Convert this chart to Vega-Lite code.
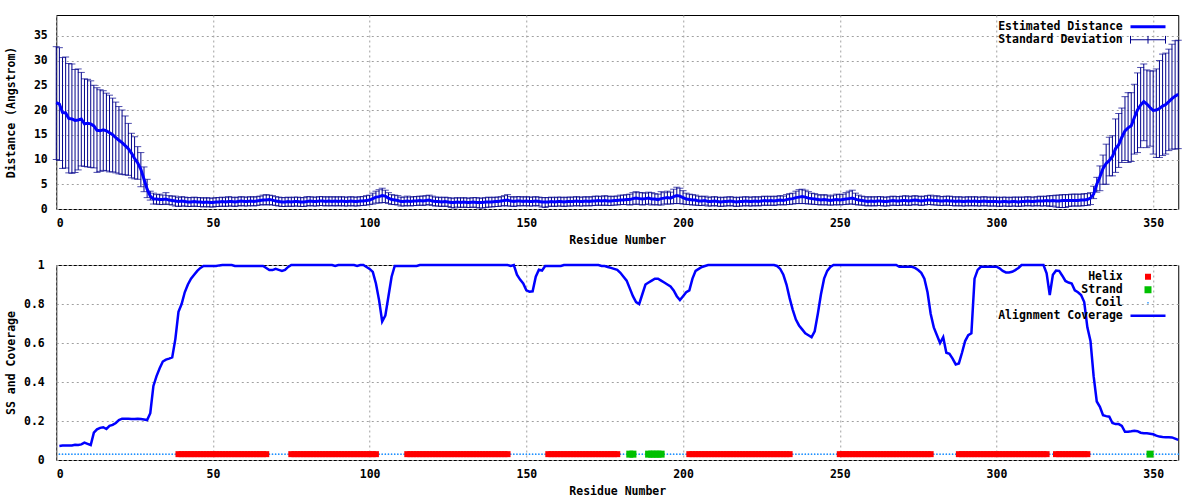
{
"$schema": "https://vega.github.io/schema/vega-lite/v6.json",
"padding": {"left": 4.25, "top": 14, "right": 22.5, "bottom": 0},
"background": "#ffffff",
"columns": 1,
"spacing": 11,
"resolve": {"scale": {"color": "independent"}, "legend": {"color": "independent"}},
"datasets": {
"dist": [
{"r":0,"d":21.5,"lo":10.0,"hi":32.8},{"r":1,"d":21.2,"lo":9.8,"hi":32.6},{"r":2,"d":19.5,"lo":8.2,"hi":30.6},{"r":3,"d":19.4,"lo":8.3,"hi":30.7},{"r":4,"d":18.3,"lo":7.3,"hi":29.4},{"r":5,"d":18.2,"lo":7.2,"hi":29.3},{"r":6,"d":17.9,"lo":7.4,"hi":28.2},{"r":7,"d":18.0,"lo":7.9,"hi":28.3},{"r":8,"d":18.2,"lo":8.7,"hi":27.6},{"r":9,"d":17.2,"lo":8.6,"hi":26.3},
{"r":10,"d":17.3,"lo":8.5,"hi":26.2},{"r":11,"d":17.2,"lo":8.4,"hi":25.9},{"r":12,"d":16.8,"lo":8.3,"hi":25.0},{"r":13,"d":15.9,"lo":7.4,"hi":24.5},{"r":14,"d":15.8,"lo":7.6,"hi":24.1},{"r":15,"d":16.0,"lo":7.8,"hi":23.9},{"r":16,"d":15.8,"lo":7.7,"hi":23.4},{"r":17,"d":15.4,"lo":7.5,"hi":23.0},{"r":18,"d":15.0,"lo":7.5,"hi":22.4},{"r":19,"d":14.4,"lo":7.3,"hi":21.6},
{"r":20,"d":13.9,"lo":7.1,"hi":20.7},{"r":21,"d":13.4,"lo":7.0,"hi":20.0},{"r":22,"d":12.8,"lo":6.9,"hi":18.8},{"r":23,"d":12.2,"lo":6.8,"hi":17.3},{"r":24,"d":11.3,"lo":6.3,"hi":15.3},{"r":25,"d":10.2,"lo":6.1,"hi":14.6},{"r":26,"d":9.3,"lo":6.0,"hi":12.6},{"r":27,"d":8.0,"lo":4.5,"hi":11.4},{"r":28,"d":6.0,"lo":3.5,"hi":8.5},{"r":29,"d":4.0,"lo":2.3,"hi":6.0},
{"r":30,"d":2.6,"lo":1.8,"hi":3.6},{"r":31,"d":2.0,"lo":1.0,"hi":3.2},{"r":32,"d":2.0,"lo":1.0,"hi":2.9},{"r":33,"d":1.9,"lo":0.9,"hi":3.0},{"r":34,"d":1.9,"lo":0.9,"hi":2.8},{"r":35,"d":2.0,"lo":1.0,"hi":3.3},{"r":36,"d":1.8,"lo":0.9,"hi":2.7},{"r":37,"d":1.7,"lo":0.8,"hi":2.6},{"r":38,"d":1.6,"lo":0.6,"hi":2.6},{"r":39,"d":1.5,"lo":0.5,"hi":2.3},
{"r":40,"d":1.6,"lo":0.6,"hi":2.5},{"r":41,"d":1.5,"lo":0.6,"hi":2.4},{"r":42,"d":1.4,"lo":0.5,"hi":2.3},{"r":43,"d":1.4,"lo":0.5,"hi":2.3},{"r":44,"d":1.5,"lo":0.6,"hi":2.4},{"r":45,"d":1.4,"lo":0.5,"hi":2.3},{"r":46,"d":1.4,"lo":0.5,"hi":2.3},{"r":47,"d":1.3,"lo":0.4,"hi":2.2},{"r":48,"d":1.4,"lo":0.5,"hi":2.3},{"r":49,"d":1.3,"lo":0.4,"hi":2.2},
{"r":50,"d":1.3,"lo":0.4,"hi":2.2},{"r":51,"d":1.4,"lo":0.5,"hi":2.3},{"r":52,"d":1.4,"lo":0.5,"hi":2.3},{"r":53,"d":1.5,"lo":0.6,"hi":2.4},{"r":54,"d":1.4,"lo":0.5,"hi":2.3},{"r":55,"d":1.5,"lo":0.6,"hi":2.5},{"r":56,"d":1.5,"lo":0.6,"hi":2.4},{"r":57,"d":1.4,"lo":0.5,"hi":2.3},{"r":58,"d":1.5,"lo":0.6,"hi":2.4},{"r":59,"d":1.6,"lo":0.7,"hi":2.5},
{"r":60,"d":1.5,"lo":0.6,"hi":2.4},{"r":61,"d":1.5,"lo":0.6,"hi":2.4},{"r":62,"d":1.6,"lo":0.7,"hi":2.5},{"r":63,"d":1.5,"lo":0.6,"hi":2.4},{"r":64,"d":1.6,"lo":0.7,"hi":2.5},{"r":65,"d":1.7,"lo":0.8,"hi":2.6},{"r":66,"d":1.8,"lo":0.9,"hi":2.8},{"r":67,"d":1.8,"lo":0.8,"hi":2.9},{"r":68,"d":1.9,"lo":0.9,"hi":2.8},{"r":69,"d":1.8,"lo":0.8,"hi":2.7},
{"r":70,"d":1.6,"lo":0.7,"hi":2.5},{"r":71,"d":1.5,"lo":0.6,"hi":2.4},{"r":72,"d":1.4,"lo":0.5,"hi":2.3},{"r":73,"d":1.4,"lo":0.5,"hi":2.3},{"r":74,"d":1.5,"lo":0.6,"hi":2.4},{"r":75,"d":1.4,"lo":0.5,"hi":2.3},{"r":76,"d":1.5,"lo":0.6,"hi":2.4},{"r":77,"d":1.5,"lo":0.6,"hi":2.4},{"r":78,"d":1.4,"lo":0.5,"hi":2.3},{"r":79,"d":1.4,"lo":0.5,"hi":2.3},
{"r":80,"d":1.5,"lo":0.6,"hi":2.5},{"r":81,"d":1.6,"lo":0.7,"hi":2.5},{"r":82,"d":1.5,"lo":0.6,"hi":2.4},{"r":83,"d":1.5,"lo":0.6,"hi":2.4},{"r":84,"d":1.6,"lo":0.7,"hi":2.5},{"r":85,"d":1.6,"lo":0.7,"hi":2.5},{"r":86,"d":1.5,"lo":0.6,"hi":2.4},{"r":87,"d":1.6,"lo":0.7,"hi":2.5},{"r":88,"d":1.5,"lo":0.6,"hi":2.4},{"r":89,"d":1.6,"lo":0.7,"hi":2.5},
{"r":90,"d":1.5,"lo":0.6,"hi":2.4},{"r":91,"d":1.6,"lo":0.7,"hi":2.5},{"r":92,"d":1.5,"lo":0.6,"hi":2.4},{"r":93,"d":1.5,"lo":0.6,"hi":2.4},{"r":94,"d":1.6,"lo":0.7,"hi":2.5},{"r":95,"d":1.5,"lo":0.6,"hi":2.4},{"r":96,"d":1.5,"lo":0.6,"hi":2.4},{"r":97,"d":1.6,"lo":0.7,"hi":2.5},{"r":98,"d":1.6,"lo":0.7,"hi":2.5},{"r":99,"d":1.7,"lo":0.8,"hi":2.7},
{"r":100,"d":1.8,"lo":0.9,"hi":2.8},{"r":101,"d":2.1,"lo":1.0,"hi":3.2},{"r":102,"d":2.4,"lo":1.2,"hi":3.6},{"r":103,"d":2.5,"lo":1.2,"hi":3.9},{"r":104,"d":2.7,"lo":1.3,"hi":4.2},{"r":105,"d":2.6,"lo":1.3,"hi":3.8},{"r":106,"d":2.2,"lo":1.1,"hi":3.3},{"r":107,"d":1.9,"lo":0.9,"hi":2.9},{"r":108,"d":1.8,"lo":0.9,"hi":2.8},{"r":109,"d":1.7,"lo":0.8,"hi":2.7},
{"r":110,"d":1.5,"lo":0.6,"hi":2.4},{"r":111,"d":1.5,"lo":0.6,"hi":2.4},{"r":112,"d":1.6,"lo":0.7,"hi":2.6},{"r":113,"d":1.5,"lo":0.6,"hi":2.4},{"r":114,"d":1.6,"lo":0.7,"hi":2.5},{"r":115,"d":1.6,"lo":0.7,"hi":2.5},{"r":116,"d":1.7,"lo":0.8,"hi":2.6},{"r":117,"d":1.6,"lo":0.7,"hi":2.6},{"r":118,"d":1.7,"lo":0.8,"hi":2.7},{"r":119,"d":1.8,"lo":0.9,"hi":2.8},
{"r":120,"d":1.6,"lo":0.7,"hi":2.6},{"r":121,"d":1.5,"lo":0.6,"hi":2.4},{"r":122,"d":1.5,"lo":0.6,"hi":2.4},{"r":123,"d":1.4,"lo":0.5,"hi":2.3},{"r":124,"d":1.5,"lo":0.6,"hi":2.4},{"r":125,"d":1.4,"lo":0.5,"hi":2.3},{"r":126,"d":1.3,"lo":0.3,"hi":2.2},{"r":127,"d":1.3,"lo":0.2,"hi":2.2},{"r":128,"d":1.4,"lo":0.4,"hi":2.3},{"r":129,"d":1.3,"lo":0.3,"hi":2.2},
{"r":130,"d":1.4,"lo":0.4,"hi":2.3},{"r":131,"d":1.3,"lo":0.3,"hi":2.2},{"r":132,"d":1.3,"lo":0.3,"hi":2.2},{"r":133,"d":1.4,"lo":0.4,"hi":2.3},{"r":134,"d":1.3,"lo":0.3,"hi":2.3},{"r":135,"d":1.3,"lo":0.2,"hi":2.2},{"r":136,"d":1.3,"lo":0.2,"hi":2.2},{"r":137,"d":1.4,"lo":0.3,"hi":2.3},{"r":138,"d":1.4,"lo":0.4,"hi":2.4},{"r":139,"d":1.4,"lo":0.4,"hi":2.3},
{"r":140,"d":1.5,"lo":0.5,"hi":2.4},{"r":141,"d":1.5,"lo":0.5,"hi":2.4},{"r":142,"d":1.6,"lo":0.6,"hi":2.5},{"r":143,"d":1.7,"lo":0.7,"hi":2.7},{"r":144,"d":1.8,"lo":0.6,"hi":2.9},{"r":145,"d":1.6,"lo":0.6,"hi":2.5},{"r":146,"d":1.5,"lo":0.5,"hi":2.4},{"r":147,"d":1.6,"lo":0.6,"hi":2.5},{"r":148,"d":1.6,"lo":0.7,"hi":2.5},{"r":149,"d":1.5,"lo":0.6,"hi":2.4},
{"r":150,"d":1.6,"lo":0.7,"hi":2.5},{"r":151,"d":1.5,"lo":0.6,"hi":2.4},{"r":152,"d":1.5,"lo":0.6,"hi":2.4},{"r":153,"d":1.6,"lo":0.7,"hi":2.5},{"r":154,"d":1.5,"lo":0.6,"hi":2.4},{"r":155,"d":1.4,"lo":0.4,"hi":2.3},{"r":156,"d":1.4,"lo":0.3,"hi":2.3},{"r":157,"d":1.4,"lo":0.5,"hi":2.3},{"r":158,"d":1.5,"lo":0.6,"hi":2.4},{"r":159,"d":1.4,"lo":0.5,"hi":2.3},
{"r":160,"d":1.5,"lo":0.6,"hi":2.4},{"r":161,"d":1.5,"lo":0.6,"hi":2.4},{"r":162,"d":1.4,"lo":0.5,"hi":2.3},{"r":163,"d":1.5,"lo":0.6,"hi":2.4},{"r":164,"d":1.5,"lo":0.6,"hi":2.4},{"r":165,"d":1.5,"lo":0.6,"hi":2.4},{"r":166,"d":1.6,"lo":0.7,"hi":2.5},{"r":167,"d":1.5,"lo":0.6,"hi":2.4},{"r":168,"d":1.5,"lo":0.6,"hi":2.4},{"r":169,"d":1.6,"lo":0.7,"hi":2.5},
{"r":170,"d":1.5,"lo":0.6,"hi":2.4},{"r":171,"d":1.6,"lo":0.7,"hi":2.5},{"r":172,"d":1.6,"lo":0.7,"hi":2.6},{"r":173,"d":1.7,"lo":0.8,"hi":2.6},{"r":174,"d":1.6,"lo":0.7,"hi":2.5},{"r":175,"d":1.7,"lo":0.8,"hi":2.7},{"r":176,"d":1.6,"lo":0.7,"hi":2.6},{"r":177,"d":1.6,"lo":0.7,"hi":2.5},{"r":178,"d":1.7,"lo":0.8,"hi":2.6},{"r":179,"d":1.7,"lo":0.8,"hi":2.6},
{"r":180,"d":1.8,"lo":0.9,"hi":2.8},{"r":181,"d":1.8,"lo":0.9,"hi":2.8},{"r":182,"d":1.9,"lo":0.9,"hi":2.9},{"r":183,"d":1.9,"lo":0.8,"hi":3.0},{"r":184,"d":2.1,"lo":0.9,"hi":3.3},{"r":185,"d":2.2,"lo":1.0,"hi":3.5},{"r":186,"d":2.1,"lo":0.9,"hi":3.3},{"r":187,"d":2.0,"lo":0.8,"hi":3.3},{"r":188,"d":2.1,"lo":0.9,"hi":3.2},{"r":189,"d":2.2,"lo":1.0,"hi":3.4},
{"r":190,"d":2.0,"lo":0.8,"hi":3.3},{"r":191,"d":2.0,"lo":0.9,"hi":3.1},{"r":192,"d":1.9,"lo":0.8,"hi":3.0},{"r":193,"d":2.1,"lo":0.8,"hi":3.5},{"r":194,"d":2.2,"lo":1.0,"hi":3.3},{"r":195,"d":2.3,"lo":1.0,"hi":3.6},{"r":196,"d":2.2,"lo":1.0,"hi":3.4},{"r":197,"d":2.5,"lo":1.1,"hi":4.0},{"r":198,"d":2.7,"lo":1.1,"hi":4.4},{"r":199,"d":2.6,"lo":1.1,"hi":4.2},
{"r":200,"d":2.3,"lo":1.0,"hi":3.7},{"r":201,"d":2.0,"lo":0.9,"hi":3.2},{"r":202,"d":1.9,"lo":0.9,"hi":3.0},{"r":203,"d":1.8,"lo":0.8,"hi":2.9},{"r":204,"d":1.8,"lo":0.8,"hi":2.8},{"r":205,"d":1.6,"lo":0.7,"hi":2.6},{"r":206,"d":1.6,"lo":0.7,"hi":2.5},{"r":207,"d":1.7,"lo":0.8,"hi":2.6},{"r":208,"d":1.5,"lo":0.6,"hi":2.4},{"r":209,"d":1.5,"lo":0.6,"hi":2.4},
{"r":210,"d":1.6,"lo":0.7,"hi":2.5},{"r":211,"d":1.5,"lo":0.6,"hi":2.4},{"r":212,"d":1.4,"lo":0.5,"hi":2.3},{"r":213,"d":1.5,"lo":0.6,"hi":2.4},{"r":214,"d":1.5,"lo":0.6,"hi":2.4},{"r":215,"d":1.6,"lo":0.7,"hi":2.5},{"r":216,"d":1.5,"lo":0.6,"hi":2.4},{"r":217,"d":1.4,"lo":0.5,"hi":2.3},{"r":218,"d":1.5,"lo":0.6,"hi":2.4},{"r":219,"d":1.5,"lo":0.6,"hi":2.4},
{"r":220,"d":1.6,"lo":0.7,"hi":2.5},{"r":221,"d":1.5,"lo":0.6,"hi":2.4},{"r":222,"d":1.5,"lo":0.6,"hi":2.4},{"r":223,"d":1.6,"lo":0.7,"hi":2.5},{"r":224,"d":1.5,"lo":0.6,"hi":2.4},{"r":225,"d":1.6,"lo":0.7,"hi":2.5},{"r":226,"d":1.7,"lo":0.8,"hi":2.6},{"r":227,"d":1.6,"lo":0.7,"hi":2.5},{"r":228,"d":1.7,"lo":0.8,"hi":2.6},{"r":229,"d":1.6,"lo":0.7,"hi":2.5},
{"r":230,"d":1.7,"lo":0.8,"hi":2.6},{"r":231,"d":1.8,"lo":0.9,"hi":2.7},{"r":232,"d":1.7,"lo":0.8,"hi":2.6},{"r":233,"d":1.9,"lo":0.9,"hi":2.9},{"r":234,"d":2.0,"lo":0.9,"hi":3.1},{"r":235,"d":2.1,"lo":1.0,"hi":3.2},{"r":236,"d":2.3,"lo":1.1,"hi":3.6},{"r":237,"d":2.4,"lo":1.1,"hi":3.9},{"r":238,"d":2.5,"lo":1.1,"hi":4.0},{"r":239,"d":2.4,"lo":1.1,"hi":3.8},
{"r":240,"d":2.2,"lo":1.0,"hi":3.5},{"r":241,"d":2.1,"lo":1.0,"hi":3.2},{"r":242,"d":2.0,"lo":0.9,"hi":3.1},{"r":243,"d":1.9,"lo":0.9,"hi":2.9},{"r":244,"d":1.8,"lo":0.8,"hi":2.8},{"r":245,"d":1.9,"lo":0.9,"hi":2.9},{"r":246,"d":1.8,"lo":0.8,"hi":2.8},{"r":247,"d":1.7,"lo":0.8,"hi":2.6},{"r":248,"d":1.8,"lo":0.8,"hi":2.8},{"r":249,"d":1.9,"lo":0.9,"hi":3.0},
{"r":250,"d":1.8,"lo":0.8,"hi":2.9},{"r":251,"d":1.9,"lo":0.9,"hi":3.0},{"r":252,"d":2.0,"lo":0.9,"hi":3.3},{"r":253,"d":2.1,"lo":1.0,"hi":3.6},{"r":254,"d":2.2,"lo":1.0,"hi":3.8},{"r":255,"d":2.0,"lo":0.9,"hi":3.2},{"r":256,"d":1.8,"lo":0.8,"hi":2.8},{"r":257,"d":1.7,"lo":0.8,"hi":2.6},{"r":258,"d":1.6,"lo":0.7,"hi":2.5},{"r":259,"d":1.5,"lo":0.6,"hi":2.4},
{"r":260,"d":1.6,"lo":0.7,"hi":2.5},{"r":261,"d":1.5,"lo":0.6,"hi":2.4},{"r":262,"d":1.6,"lo":0.7,"hi":2.5},{"r":263,"d":1.6,"lo":0.7,"hi":2.5},{"r":264,"d":1.5,"lo":0.6,"hi":2.4},{"r":265,"d":1.5,"lo":0.6,"hi":2.4},{"r":266,"d":1.6,"lo":0.7,"hi":2.5},{"r":267,"d":1.7,"lo":0.8,"hi":2.6},{"r":268,"d":1.6,"lo":0.7,"hi":2.5},{"r":269,"d":1.6,"lo":0.7,"hi":2.5},
{"r":270,"d":1.7,"lo":0.8,"hi":2.6},{"r":271,"d":1.7,"lo":0.8,"hi":2.7},{"r":272,"d":1.6,"lo":0.7,"hi":2.5},{"r":273,"d":1.7,"lo":0.8,"hi":2.6},{"r":274,"d":1.8,"lo":0.9,"hi":2.7},{"r":275,"d":1.7,"lo":0.8,"hi":2.6},{"r":276,"d":1.6,"lo":0.7,"hi":2.5},{"r":277,"d":1.7,"lo":0.8,"hi":2.6},{"r":278,"d":1.8,"lo":0.9,"hi":2.7},{"r":279,"d":1.8,"lo":0.9,"hi":2.8},
{"r":280,"d":1.7,"lo":0.8,"hi":2.6},{"r":281,"d":1.7,"lo":0.8,"hi":2.7},{"r":282,"d":1.6,"lo":0.7,"hi":2.5},{"r":283,"d":1.6,"lo":0.7,"hi":2.5},{"r":284,"d":1.7,"lo":0.8,"hi":2.6},{"r":285,"d":1.6,"lo":0.7,"hi":2.6},{"r":286,"d":1.6,"lo":0.7,"hi":2.5},{"r":287,"d":1.5,"lo":0.6,"hi":2.4},{"r":288,"d":1.6,"lo":0.7,"hi":2.5},{"r":289,"d":1.5,"lo":0.6,"hi":2.4},
{"r":290,"d":1.5,"lo":0.6,"hi":2.4},{"r":291,"d":1.6,"lo":0.7,"hi":2.5},{"r":292,"d":1.5,"lo":0.6,"hi":2.4},{"r":293,"d":1.6,"lo":0.7,"hi":2.5},{"r":294,"d":1.5,"lo":0.6,"hi":2.4},{"r":295,"d":1.5,"lo":0.6,"hi":2.4},{"r":296,"d":1.6,"lo":0.7,"hi":2.5},{"r":297,"d":1.5,"lo":0.6,"hi":2.4},{"r":298,"d":1.5,"lo":0.6,"hi":2.4},{"r":299,"d":1.5,"lo":0.6,"hi":2.4},
{"r":300,"d":1.5,"lo":0.6,"hi":2.4},{"r":301,"d":1.4,"lo":0.5,"hi":2.3},{"r":302,"d":1.5,"lo":0.6,"hi":2.4},{"r":303,"d":1.5,"lo":0.6,"hi":2.4},{"r":304,"d":1.4,"lo":0.5,"hi":2.3},{"r":305,"d":1.5,"lo":0.6,"hi":2.4},{"r":306,"d":1.5,"lo":0.6,"hi":2.4},{"r":307,"d":1.4,"lo":0.5,"hi":2.4},{"r":308,"d":1.5,"lo":0.6,"hi":2.4},{"r":309,"d":1.5,"lo":0.6,"hi":2.4},
{"r":310,"d":1.6,"lo":0.7,"hi":2.5},{"r":311,"d":1.5,"lo":0.6,"hi":2.4},{"r":312,"d":1.5,"lo":0.6,"hi":2.4},{"r":313,"d":1.6,"lo":0.7,"hi":2.5},{"r":314,"d":1.6,"lo":0.6,"hi":2.6},{"r":315,"d":1.6,"lo":0.6,"hi":2.5},{"r":316,"d":1.7,"lo":0.7,"hi":2.6},{"r":317,"d":1.6,"lo":0.5,"hi":2.7},{"r":318,"d":1.7,"lo":0.6,"hi":2.7},{"r":319,"d":1.6,"lo":0.4,"hi":2.8},
{"r":320,"d":1.6,"lo":0.3,"hi":2.8},{"r":321,"d":1.7,"lo":0.3,"hi":2.9},{"r":322,"d":1.7,"lo":0.3,"hi":2.9},{"r":323,"d":1.7,"lo":0.5,"hi":2.9},{"r":324,"d":1.7,"lo":0.6,"hi":3.0},{"r":325,"d":1.7,"lo":0.6,"hi":3.0},{"r":326,"d":1.7,"lo":0.6,"hi":3.0},{"r":327,"d":1.8,"lo":0.6,"hi":3.0},{"r":328,"d":1.8,"lo":0.7,"hi":3.1},{"r":329,"d":1.9,"lo":0.7,"hi":3.1},
{"r":330,"d":2.2,"lo":0.9,"hi":3.3},{"r":331,"d":3.0,"lo":2.1,"hi":4.6},{"r":332,"d":5.0,"lo":3.4,"hi":6.4},{"r":333,"d":6.5,"lo":3.7,"hi":8.7},{"r":334,"d":8.2,"lo":5.0,"hi":10.9},{"r":335,"d":9.2,"lo":5.0,"hi":13.1},{"r":336,"d":9.8,"lo":6.7,"hi":14.5},{"r":337,"d":10.6,"lo":6.7,"hi":14.8},{"r":338,"d":12.2,"lo":7.4,"hi":18.2},{"r":339,"d":13.0,"lo":8.4,"hi":19.3},
{"r":340,"d":14.5,"lo":9.4,"hi":20.4},{"r":341,"d":15.8,"lo":9.8,"hi":22.7},{"r":342,"d":16.4,"lo":9.4,"hi":23.5},{"r":343,"d":16.8,"lo":9.6,"hi":23.5},{"r":344,"d":18.5,"lo":11.1,"hi":25.2},{"r":345,"d":20.0,"lo":11.4,"hi":27.5},{"r":346,"d":21.0,"lo":12.4,"hi":28.6},{"r":347,"d":21.7,"lo":13.8,"hi":29.3},{"r":348,"d":21.2,"lo":12.4,"hi":28.1},{"r":349,"d":20.5,"lo":12.7,"hi":27.9},
{"r":350,"d":19.9,"lo":11.1,"hi":27.9},{"r":351,"d":20.0,"lo":10.4,"hi":28.3},{"r":352,"d":20.3,"lo":10.4,"hi":30.0},{"r":353,"d":20.8,"lo":10.8,"hi":31.3},{"r":354,"d":21.1,"lo":11.1,"hi":31.5},{"r":355,"d":21.7,"lo":11.8,"hi":32.3},{"r":356,"d":22.3,"lo":12.1,"hi":33.3},{"r":357,"d":22.8,"lo":12.1,"hi":34.0},{"r":358,"d":23.2,"lo":12.2,"hi":34.1}
],
"ss": [
{"r":1,"c":0.072,"s":"Coil"},{"r":2,"c":0.074,"s":"Coil"},{"r":3,"c":0.075,"s":"Coil"},{"r":4,"c":0.075,"s":"Coil"},{"r":5,"c":0.075,"s":"Coil"},{"r":6,"c":0.078,"s":"Coil"},{"r":7,"c":0.077,"s":"Coil"},{"r":8,"c":0.08,"s":"Coil"},{"r":9,"c":0.089,"s":"Coil"},{"r":10,"c":0.083,"s":"Coil"},
{"r":11,"c":0.077,"s":"Coil"},{"r":12,"c":0.14,"s":"Coil"},{"r":13,"c":0.157,"s":"Coil"},{"r":14,"c":0.165,"s":"Coil"},{"r":15,"c":0.168,"s":"Coil"},{"r":16,"c":0.159,"s":"Coil"},{"r":17,"c":0.175,"s":"Coil"},{"r":18,"c":0.18,"s":"Coil"},{"r":19,"c":0.19,"s":"Coil"},{"r":20,"c":0.205,"s":"Coil"},
{"r":21,"c":0.212,"s":"Coil"},{"r":22,"c":0.212,"s":"Coil"},{"r":23,"c":0.212,"s":"Coil"},{"r":24,"c":0.21,"s":"Coil"},{"r":25,"c":0.21,"s":"Coil"},{"r":26,"c":0.212,"s":"Coil"},{"r":27,"c":0.21,"s":"Coil"},{"r":28,"c":0.208,"s":"Coil"},{"r":29,"c":0.205,"s":"Coil"},{"r":30,"c":0.24,"s":"Coil"},
{"r":31,"c":0.38,"s":"Coil"},{"r":32,"c":0.43,"s":"Coil"},{"r":33,"c":0.47,"s":"Coil"},{"r":34,"c":0.505,"s":"Coil"},{"r":35,"c":0.515,"s":"Coil"},{"r":36,"c":0.52,"s":"Coil"},{"r":37,"c":0.526,"s":"Coil"},{"r":38,"c":0.62,"s":"Coil"},{"r":39,"c":0.76,"s":"Helix"},{"r":40,"c":0.8,"s":"Helix"},
{"r":41,"c":0.86,"s":"Helix"},{"r":42,"c":0.9,"s":"Helix"},{"r":43,"c":0.93,"s":"Helix"},{"r":44,"c":0.95,"s":"Helix"},{"r":45,"c":0.97,"s":"Helix"},{"r":46,"c":0.985,"s":"Helix"},{"r":47,"c":0.995,"s":"Helix"},{"r":48,"c":0.995,"s":"Helix"},{"r":49,"c":0.995,"s":"Helix"},{"r":50,"c":0.995,"s":"Helix"},
{"r":51,"c":0.995,"s":"Helix"},{"r":52,"c":0.998,"s":"Helix"},{"r":53,"c":1,"s":"Helix"},{"r":54,"c":1,"s":"Helix"},{"r":55,"c":1,"s":"Helix"},{"r":56,"c":1,"s":"Helix"},{"r":57,"c":0.995,"s":"Helix"},{"r":58,"c":0.995,"s":"Helix"},{"r":59,"c":0.995,"s":"Helix"},{"r":60,"c":0.995,"s":"Helix"},
{"r":61,"c":0.995,"s":"Helix"},{"r":62,"c":0.995,"s":"Helix"},{"r":63,"c":0.995,"s":"Helix"},{"r":64,"c":0.995,"s":"Helix"},{"r":65,"c":0.995,"s":"Helix"},{"r":66,"c":0.995,"s":"Helix"},{"r":67,"c":0.985,"s":"Helix"},{"r":68,"c":0.974,"s":"Coil"},{"r":69,"c":0.974,"s":"Coil"},{"r":70,"c":0.98,"s":"Coil"},
{"r":71,"c":0.975,"s":"Coil"},{"r":72,"c":0.97,"s":"Coil"},{"r":73,"c":0.975,"s":"Coil"},{"r":74,"c":0.99,"s":"Coil"},{"r":75,"c":1,"s":"Helix"},{"r":76,"c":1,"s":"Helix"},{"r":77,"c":1,"s":"Helix"},{"r":78,"c":1,"s":"Helix"},{"r":79,"c":1,"s":"Helix"},{"r":80,"c":1,"s":"Helix"},
{"r":81,"c":1,"s":"Helix"},{"r":82,"c":1,"s":"Helix"},{"r":83,"c":1,"s":"Helix"},{"r":84,"c":1,"s":"Helix"},{"r":85,"c":1,"s":"Helix"},{"r":86,"c":1,"s":"Helix"},{"r":87,"c":1,"s":"Helix"},{"r":88,"c":1,"s":"Helix"},{"r":89,"c":0.995,"s":"Helix"},{"r":90,"c":1,"s":"Helix"},
{"r":91,"c":1,"s":"Helix"},{"r":92,"c":1,"s":"Helix"},{"r":93,"c":1,"s":"Helix"},{"r":94,"c":1,"s":"Helix"},{"r":95,"c":1,"s":"Helix"},{"r":96,"c":0.995,"s":"Helix"},{"r":97,"c":1,"s":"Helix"},{"r":98,"c":1,"s":"Helix"},{"r":99,"c":0.99,"s":"Helix"},{"r":100,"c":0.98,"s":"Helix"},
{"r":101,"c":0.965,"s":"Helix"},{"r":102,"c":0.905,"s":"Helix"},{"r":103,"c":0.82,"s":"Coil"},{"r":104,"c":0.71,"s":"Coil"},{"r":105,"c":0.74,"s":"Coil"},{"r":106,"c":0.84,"s":"Coil"},{"r":107,"c":0.94,"s":"Coil"},{"r":108,"c":0.995,"s":"Coil"},{"r":109,"c":0.995,"s":"Coil"},{"r":110,"c":0.995,"s":"Coil"},
{"r":111,"c":0.995,"s":"Coil"},{"r":112,"c":0.995,"s":"Helix"},{"r":113,"c":0.995,"s":"Helix"},{"r":114,"c":0.995,"s":"Helix"},{"r":115,"c":0.995,"s":"Helix"},{"r":116,"c":1,"s":"Helix"},{"r":117,"c":1,"s":"Helix"},{"r":118,"c":1,"s":"Helix"},{"r":119,"c":1,"s":"Helix"},{"r":120,"c":1,"s":"Helix"},
{"r":121,"c":1,"s":"Helix"},{"r":122,"c":1,"s":"Helix"},{"r":123,"c":1,"s":"Helix"},{"r":124,"c":1,"s":"Helix"},{"r":125,"c":1,"s":"Helix"},{"r":126,"c":1,"s":"Helix"},{"r":127,"c":1,"s":"Helix"},{"r":128,"c":1,"s":"Helix"},{"r":129,"c":1,"s":"Helix"},{"r":130,"c":1,"s":"Helix"},
{"r":131,"c":1,"s":"Helix"},{"r":132,"c":1,"s":"Helix"},{"r":133,"c":1,"s":"Helix"},{"r":134,"c":1,"s":"Helix"},{"r":135,"c":1,"s":"Helix"},{"r":136,"c":1,"s":"Helix"},{"r":137,"c":1,"s":"Helix"},{"r":138,"c":1,"s":"Helix"},{"r":139,"c":1,"s":"Helix"},{"r":140,"c":1,"s":"Helix"},
{"r":141,"c":1,"s":"Helix"},{"r":142,"c":1,"s":"Helix"},{"r":143,"c":1,"s":"Helix"},{"r":144,"c":1,"s":"Helix"},{"r":145,"c":0.995,"s":"Coil"},{"r":146,"c":1,"s":"Coil"},{"r":147,"c":0.95,"s":"Coil"},{"r":148,"c":0.925,"s":"Coil"},{"r":149,"c":0.905,"s":"Coil"},{"r":150,"c":0.87,"s":"Coil"},
{"r":151,"c":0.863,"s":"Coil"},{"r":152,"c":0.865,"s":"Coil"},{"r":153,"c":0.94,"s":"Coil"},{"r":154,"c":0.976,"s":"Coil"},{"r":155,"c":0.972,"s":"Coil"},{"r":156,"c":0.995,"s":"Coil"},{"r":157,"c":0.995,"s":"Helix"},{"r":158,"c":0.995,"s":"Helix"},{"r":159,"c":0.995,"s":"Helix"},{"r":160,"c":0.995,"s":"Helix"},
{"r":161,"c":0.995,"s":"Helix"},{"r":162,"c":1,"s":"Helix"},{"r":163,"c":1,"s":"Helix"},{"r":164,"c":1,"s":"Helix"},{"r":165,"c":1,"s":"Helix"},{"r":166,"c":1,"s":"Helix"},{"r":167,"c":1,"s":"Helix"},{"r":168,"c":1,"s":"Helix"},{"r":169,"c":1,"s":"Helix"},{"r":170,"c":1,"s":"Helix"},
{"r":171,"c":1,"s":"Helix"},{"r":172,"c":1,"s":"Helix"},{"r":173,"c":1,"s":"Helix"},{"r":174,"c":0.995,"s":"Helix"},{"r":175,"c":0.995,"s":"Helix"},{"r":176,"c":0.99,"s":"Helix"},{"r":177,"c":0.985,"s":"Helix"},{"r":178,"c":0.98,"s":"Helix"},{"r":179,"c":0.975,"s":"Helix"},{"r":180,"c":0.96,"s":"Coil"},
{"r":181,"c":0.94,"s":"Coil"},{"r":182,"c":0.92,"s":"Coil"},{"r":183,"c":0.88,"s":"Strand"},{"r":184,"c":0.84,"s":"Strand"},{"r":185,"c":0.81,"s":"Coil"},{"r":186,"c":0.8,"s":"Coil"},{"r":187,"c":0.85,"s":"Coil"},{"r":188,"c":0.9,"s":"Coil"},{"r":189,"c":0.91,"s":"Strand"},{"r":190,"c":0.92,"s":"Strand"},
{"r":191,"c":0.93,"s":"Strand"},{"r":192,"c":0.93,"s":"Strand"},{"r":193,"c":0.92,"s":"Strand"},{"r":194,"c":0.91,"s":"Coil"},{"r":195,"c":0.9,"s":"Coil"},{"r":196,"c":0.89,"s":"Coil"},{"r":197,"c":0.87,"s":"Coil"},{"r":198,"c":0.84,"s":"Coil"},{"r":199,"c":0.82,"s":"Coil"},{"r":200,"c":0.84,"s":"Coil"},
{"r":201,"c":0.86,"s":"Coil"},{"r":202,"c":0.87,"s":"Helix"},{"r":203,"c":0.93,"s":"Helix"},{"r":204,"c":0.97,"s":"Helix"},{"r":205,"c":0.98,"s":"Helix"},{"r":206,"c":0.99,"s":"Helix"},{"r":207,"c":0.995,"s":"Helix"},{"r":208,"c":1,"s":"Helix"},{"r":209,"c":1,"s":"Helix"},{"r":210,"c":1,"s":"Helix"},
{"r":211,"c":1,"s":"Helix"},{"r":212,"c":1,"s":"Helix"},{"r":213,"c":1,"s":"Helix"},{"r":214,"c":1,"s":"Helix"},{"r":215,"c":1,"s":"Helix"},{"r":216,"c":1,"s":"Helix"},{"r":217,"c":1,"s":"Helix"},{"r":218,"c":1,"s":"Helix"},{"r":219,"c":1,"s":"Helix"},{"r":220,"c":1,"s":"Helix"},
{"r":221,"c":1,"s":"Helix"},{"r":222,"c":1,"s":"Helix"},{"r":223,"c":1,"s":"Helix"},{"r":224,"c":1,"s":"Helix"},{"r":225,"c":1,"s":"Helix"},{"r":226,"c":1,"s":"Helix"},{"r":227,"c":1,"s":"Helix"},{"r":228,"c":1,"s":"Helix"},{"r":229,"c":1,"s":"Helix"},{"r":230,"c":0.995,"s":"Helix"},
{"r":231,"c":0.98,"s":"Helix"},{"r":232,"c":0.95,"s":"Helix"},{"r":233,"c":0.9,"s":"Helix"},{"r":234,"c":0.83,"s":"Helix"},{"r":235,"c":0.77,"s":"Coil"},{"r":236,"c":0.72,"s":"Coil"},{"r":237,"c":0.69,"s":"Coil"},{"r":238,"c":0.67,"s":"Coil"},{"r":239,"c":0.65,"s":"Coil"},{"r":240,"c":0.64,"s":"Coil"},
{"r":241,"c":0.63,"s":"Coil"},{"r":242,"c":0.66,"s":"Coil"},{"r":243,"c":0.75,"s":"Coil"},{"r":244,"c":0.85,"s":"Coil"},{"r":245,"c":0.93,"s":"Coil"},{"r":246,"c":0.97,"s":"Coil"},{"r":247,"c":0.99,"s":"Coil"},{"r":248,"c":1,"s":"Coil"},{"r":249,"c":1,"s":"Coil"},{"r":250,"c":1,"s":"Helix"},
{"r":251,"c":1,"s":"Helix"},{"r":252,"c":1,"s":"Helix"},{"r":253,"c":1,"s":"Helix"},{"r":254,"c":1,"s":"Helix"},{"r":255,"c":1,"s":"Helix"},{"r":256,"c":1,"s":"Helix"},{"r":257,"c":1,"s":"Helix"},{"r":258,"c":1,"s":"Helix"},{"r":259,"c":1,"s":"Helix"},{"r":260,"c":1,"s":"Helix"},
{"r":261,"c":1,"s":"Helix"},{"r":262,"c":1,"s":"Helix"},{"r":263,"c":1,"s":"Helix"},{"r":264,"c":1,"s":"Helix"},{"r":265,"c":1,"s":"Helix"},{"r":266,"c":1,"s":"Helix"},{"r":267,"c":1,"s":"Helix"},{"r":268,"c":1,"s":"Helix"},{"r":269,"c":0.991,"s":"Helix"},{"r":270,"c":0.991,"s":"Helix"},
{"r":271,"c":0.991,"s":"Helix"},{"r":272,"c":0.991,"s":"Helix"},{"r":273,"c":0.991,"s":"Helix"},{"r":274,"c":0.985,"s":"Helix"},{"r":275,"c":0.974,"s":"Helix"},{"r":276,"c":0.96,"s":"Helix"},{"r":277,"c":0.93,"s":"Helix"},{"r":278,"c":0.86,"s":"Helix"},{"r":279,"c":0.75,"s":"Helix"},{"r":280,"c":0.68,"s":"Coil"},
{"r":281,"c":0.64,"s":"Coil"},{"r":282,"c":0.6,"s":"Coil"},{"r":283,"c":0.63,"s":"Coil"},{"r":284,"c":0.55,"s":"Coil"},{"r":285,"c":0.545,"s":"Coil"},{"r":286,"c":0.52,"s":"Coil"},{"r":287,"c":0.49,"s":"Coil"},{"r":288,"c":0.495,"s":"Helix"},{"r":289,"c":0.55,"s":"Helix"},{"r":290,"c":0.61,"s":"Helix"},
{"r":291,"c":0.64,"s":"Helix"},{"r":292,"c":0.65,"s":"Helix"},{"r":293,"c":0.93,"s":"Helix"},{"r":294,"c":0.975,"s":"Helix"},{"r":295,"c":0.991,"s":"Helix"},{"r":296,"c":0.991,"s":"Helix"},{"r":297,"c":0.991,"s":"Helix"},{"r":298,"c":0.991,"s":"Helix"},{"r":299,"c":0.991,"s":"Helix"},{"r":300,"c":0.991,"s":"Helix"},
{"r":301,"c":0.983,"s":"Helix"},{"r":302,"c":0.97,"s":"Helix"},{"r":303,"c":0.962,"s":"Helix"},{"r":304,"c":0.962,"s":"Helix"},{"r":305,"c":0.965,"s":"Helix"},{"r":306,"c":0.974,"s":"Helix"},{"r":307,"c":0.985,"s":"Helix"},{"r":308,"c":1,"s":"Helix"},{"r":309,"c":1,"s":"Helix"},{"r":310,"c":1,"s":"Helix"},
{"r":311,"c":1,"s":"Helix"},{"r":312,"c":1,"s":"Helix"},{"r":313,"c":1,"s":"Helix"},{"r":314,"c":1,"s":"Helix"},{"r":315,"c":1,"s":"Helix"},{"r":316,"c":0.957,"s":"Helix"},{"r":317,"c":0.846,"s":"Coil"},{"r":318,"c":0.95,"s":"Coil"},{"r":319,"c":0.971,"s":"Helix"},{"r":320,"c":0.97,"s":"Helix"},
{"r":321,"c":0.945,"s":"Helix"},{"r":322,"c":0.918,"s":"Helix"},{"r":323,"c":0.91,"s":"Helix"},{"r":324,"c":0.905,"s":"Helix"},{"r":325,"c":0.87,"s":"Helix"},{"r":326,"c":0.86,"s":"Helix"},{"r":327,"c":0.846,"s":"Helix"},{"r":328,"c":0.81,"s":"Helix"},{"r":329,"c":0.68,"s":"Helix"},{"r":330,"c":0.61,"s":"Coil"},
{"r":331,"c":0.43,"s":"Coil"},{"r":332,"c":0.3,"s":"Coil"},{"r":333,"c":0.273,"s":"Coil"},{"r":334,"c":0.23,"s":"Coil"},{"r":335,"c":0.225,"s":"Coil"},{"r":336,"c":0.222,"s":"Coil"},{"r":337,"c":0.19,"s":"Coil"},{"r":338,"c":0.184,"s":"Coil"},{"r":339,"c":0.184,"s":"Coil"},{"r":340,"c":0.175,"s":"Coil"},
{"r":341,"c":0.145,"s":"Coil"},{"r":342,"c":0.145,"s":"Coil"},{"r":343,"c":0.147,"s":"Coil"},{"r":344,"c":0.15,"s":"Coil"},{"r":345,"c":0.148,"s":"Coil"},{"r":346,"c":0.14,"s":"Coil"},{"r":347,"c":0.137,"s":"Coil"},{"r":348,"c":0.137,"s":"Coil"},{"r":349,"c":0.135,"s":"Strand"},{"r":350,"c":0.132,"s":"Coil"},
{"r":351,"c":0.125,"s":"Coil"},{"r":352,"c":0.12,"s":"Coil"},{"r":353,"c":0.118,"s":"Coil"},{"r":354,"c":0.117,"s":"Coil"},{"r":355,"c":0.117,"s":"Coil"},{"r":356,"c":0.116,"s":"Coil"},{"r":357,"c":0.11,"s":"Coil"},{"r":358,"c":0.103,"s":"Coil"}
]
},
"concat": [
{
"width": 1122,
"height": 194,
"data": {"name": "dist"},
"resolve": {"scale": {"color": "shared"}, "legend": {"color": "shared"}},
"layer": [
{
"mark": {"type": "errorbar", "ticks": {"size": 7}, "thickness": 1},
"encoding": {
"x": {"field": "r", "type": "quantitative", "title": "Residue Number", "scale": {"domain": [0, 358], "nice": false, "zero": false}},
"y": {"field": "lo", "type": "quantitative", "title": "Distance (Angstrom)", "scale": {"domain": [0, 39.2], "nice": false}},
"y2": {"field": "hi"},
"color": {"datum": "Standard Deviation", "type": "nominal", "scale": {"domain": ["Estimated Distance", "Standard Deviation"], "range": ["#0000ff", "#00008b"]},
"legend": {"title": null, "orient": "none", "legendX": 1086, "legendY": 6, "padding": 0, "symbolType": "stroke", "symbolSize": 1225, "symbolStrokeWidth": 3, "labelAlign": "right", "labelOffset": -31, "rowPadding": 0,
"encode": {"symbols": {"update": {
"shape": {"signal": "datum.value === 'Standard Deviation' ? 'M-1,0L1,0M-1,-0.22L-1,0.22M1,-0.22L1,0.22M0,-0.22L0,0.22' : 'stroke'"},
"strokeWidth": {"signal": "datum.value === 'Standard Deviation' ? 1 : 3"},
"fill": {"value": "transparent"},
"opacity": {"value": 1}
}}}}}
}
},
{
"mark": {"type": "line", "strokeWidth": 3},
"encoding": {
"x": {"field": "r", "type": "quantitative", "title": "Residue Number", "axis": {"values": [0, 50, 100, 150, 200, 250, 300, 350], "labelPadding": 8, "titlePadding": 6}},
"y": {"field": "d", "type": "quantitative", "title": "Distance (Angstrom)", "axis": {"values": [0, 5, 10, 15, 20, 25, 30, 35], "tickCount": 10, "labelOverlap": false, "labelPadding": 9, "titleX": -39.75}},
"color": {"datum": "Estimated Distance", "type": "nominal"}
}
}
]
},
{
"width": 1122,
"height": 195,
"data": {"name": "ss"},
"resolve": {"scale": {"color": "shared"}, "legend": {"color": "shared"}},
"encoding": {
"x": {"field": "r", "type": "quantitative", "title": "Residue Number", "scale": {"domain": [0, 358], "nice": false, "zero": false}, "axis": {"values": [0, 50, 100, 150, 200, 250, 300, 350], "labelPadding": 8, "titlePadding": 6}}
},
"layer": [
{
"transform": [{"filter": "datum.s === 'Coil'"}],
"mark": {"type": "point", "shape": "circle", "filled": true, "size": 3, "opacity": 1, "strokeWidth": 0},
"encoding": {
"y": {"datum": 0.03, "type": "quantitative", "title": "SS and Coverage", "scale": {"domain": [0, 1], "nice": false}, "axis": {"values": [0, 0.2, 0.4, 0.6, 0.8, 1], "tickCount": 10, "format": "~g", "labelOverlap": false, "labelPadding": 12, "titleX": -39.75}},
"color": {"field": "s", "type": "nominal", "scale": {"domain": ["Helix", "Strand", "Coil", "Alignment Coverage"], "range": ["#ff0000", "#00c000", "#1e90ff", "#0000ff"]},
"legend": {"title": null, "orient": "none", "legendX": 1086, "legendY": 6, "padding": 0, "symbolType": "stroke", "symbolSize": 1225, "labelAlign": "right", "labelOffset": -31, "rowPadding": 0,
"encode": {"symbols": {"update": {
"shape": {"signal": "datum.value === 'Alignment Coverage' ? 'stroke' : datum.value === 'Coil' ? 'circle' : 'square'"},
"size": {"signal": "datum.value === 'Alignment Coverage' ? 1225 : datum.value === 'Coil' ? 3 : datum.value === 'Strand' ? 49 : 36"},
"fill": {"signal": "datum.value === 'Helix' ? '#ff0000' : datum.value === 'Strand' ? '#00c000' : datum.value === 'Coil' ? '#1e90ff' : 'transparent'"},
"stroke": {"signal": "datum.value === 'Alignment Coverage' ? '#0000ff' : 'transparent'"},
"strokeWidth": {"signal": "datum.value === 'Alignment Coverage' ? 2.5 : 0"},
"opacity": {"value": 1}
}}}}}
}
},
{
"transform": [{"filter": "datum.s === 'Helix'"}],
"mark": {"type": "point", "shape": "square", "filled": true, "size": 36, "opacity": 1, "strokeWidth": 0},
"encoding": {
"y": {"datum": 0.03, "type": "quantitative", "title": "SS and Coverage"},
"color": {"field": "s", "type": "nominal",
"legend": {"title": null, "orient": "none", "legendX": 1086, "legendY": 6, "padding": 0, "symbolType": "stroke", "symbolSize": 1225, "labelAlign": "right", "labelOffset": -31, "rowPadding": 0,
"encode": {"symbols": {"update": {
"shape": {"signal": "datum.value === 'Alignment Coverage' ? 'stroke' : datum.value === 'Coil' ? 'circle' : 'square'"},
"size": {"signal": "datum.value === 'Alignment Coverage' ? 1225 : datum.value === 'Coil' ? 3 : datum.value === 'Strand' ? 49 : 36"},
"fill": {"signal": "datum.value === 'Helix' ? '#ff0000' : datum.value === 'Strand' ? '#00c000' : datum.value === 'Coil' ? '#1e90ff' : 'transparent'"},
"stroke": {"signal": "datum.value === 'Alignment Coverage' ? '#0000ff' : 'transparent'"},
"strokeWidth": {"signal": "datum.value === 'Alignment Coverage' ? 2.5 : 0"},
"opacity": {"value": 1}
}}}}}
}
},
{
"transform": [{"filter": "datum.s === 'Strand'"}],
"mark": {"type": "point", "shape": "square", "filled": true, "size": 49, "opacity": 1, "strokeWidth": 0},
"encoding": {
"y": {"datum": 0.03, "type": "quantitative", "title": "SS and Coverage"},
"color": {"field": "s", "type": "nominal",
"legend": {"title": null, "orient": "none", "legendX": 1086, "legendY": 6, "padding": 0, "symbolType": "stroke", "symbolSize": 1225, "labelAlign": "right", "labelOffset": -31, "rowPadding": 0,
"encode": {"symbols": {"update": {
"shape": {"signal": "datum.value === 'Alignment Coverage' ? 'stroke' : datum.value === 'Coil' ? 'circle' : 'square'"},
"size": {"signal": "datum.value === 'Alignment Coverage' ? 1225 : datum.value === 'Coil' ? 3 : datum.value === 'Strand' ? 49 : 36"},
"fill": {"signal": "datum.value === 'Helix' ? '#ff0000' : datum.value === 'Strand' ? '#00c000' : datum.value === 'Coil' ? '#1e90ff' : 'transparent'"},
"stroke": {"signal": "datum.value === 'Alignment Coverage' ? '#0000ff' : 'transparent'"},
"strokeWidth": {"signal": "datum.value === 'Alignment Coverage' ? 2.5 : 0"},
"opacity": {"value": 1}
}}}}}
}
},
{
"mark": {"type": "line", "strokeWidth": 2.5},
"encoding": {
"y": {"field": "c", "type": "quantitative", "title": "SS and Coverage"},
"color": {"datum": "Alignment Coverage", "type": "nominal",
"legend": {"title": null, "orient": "none", "legendX": 1086, "legendY": 6, "padding": 0, "symbolType": "stroke", "symbolSize": 1225, "labelAlign": "right", "labelOffset": -31, "rowPadding": 0,
"encode": {"symbols": {"update": {
"shape": {"signal": "datum.value === 'Alignment Coverage' ? 'stroke' : datum.value === 'Coil' ? 'circle' : 'square'"},
"size": {"signal": "datum.value === 'Alignment Coverage' ? 1225 : datum.value === 'Coil' ? 3 : datum.value === 'Strand' ? 49 : 36"},
"fill": {"signal": "datum.value === 'Helix' ? '#ff0000' : datum.value === 'Strand' ? '#00c000' : datum.value === 'Coil' ? '#1e90ff' : 'transparent'"},
"stroke": {"signal": "datum.value === 'Alignment Coverage' ? '#0000ff' : 'transparent'"},
"strokeWidth": {"signal": "datum.value === 'Alignment Coverage' ? 2.5 : 0"},
"opacity": {"value": 1}
}}}}}
}
}
]
}
],
"config": {
"view": {"stroke": "#000000", "strokeWidth": 1},
"axis": {"labelFont": "DejaVu Sans Mono", "labelFontWeight": "bold", "labelFontSize": 11.5, "labelColor": "#000000", "titleFont": "DejaVu Sans Mono", "titleFontWeight": "bold", "titleFontSize": 11.5, "titleColor": "#000000", "grid": true, "gridColor": "#a0a0a0", "gridDash": [2, 3], "gridWidth": 1, "gridOpacity": 1, "domain": false, "ticks": false, "labelOverlap": false},
"legend": {"labelFont": "DejaVu Sans Mono", "labelFontWeight": "bold", "labelFontSize": 11.5, "labelColor": "#000000"}
}
}
